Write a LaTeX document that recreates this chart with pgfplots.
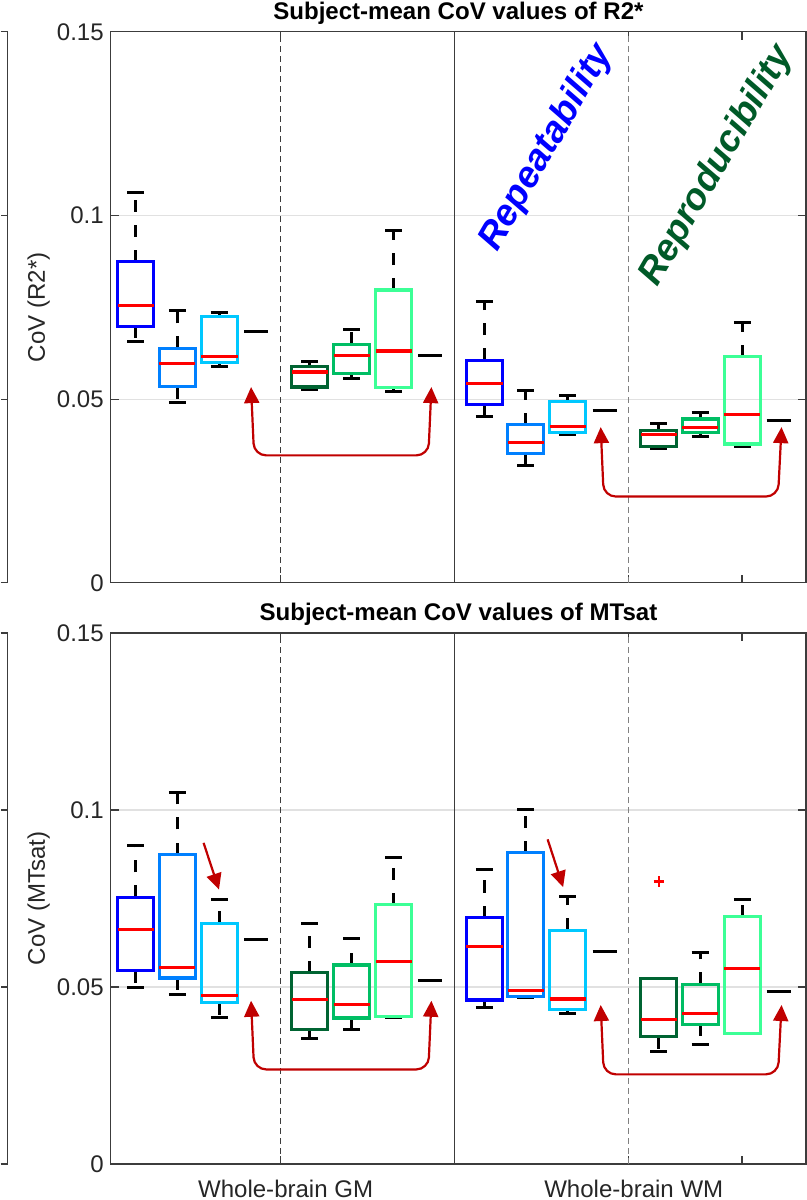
\documentclass[border=0pt]{standalone}
\usepackage{fontspec}
\setmainfont{Liberation Sans}
\usepackage{pgfplots}
\pgfplotsset{compat=1.18}
\usetikzlibrary{arrows.meta}

\definecolor{cA}{RGB}{0,0,255}
\definecolor{cB}{RGB}{0,128,255}
\definecolor{cC}{RGB}{0,200,255}
\definecolor{cD}{RGB}{0,100,50}
\definecolor{cE}{RGB}{0,190,100}
\definecolor{cF}{RGB}{60,255,150}
\definecolor{arr}{RGB}{192,0,0}
\definecolor{repgreen}{RGB}{0,90,40}
\definecolor{axcol}{RGB}{60,60,60}
\definecolor{gridcol}{RGB}{225,225,225}

\tikzset{
  arrowline/.style={arr, line width=1.1pt, rounded corners=6pt,
    {Triangle[length=8pt,width=7.5pt]}-{Triangle[length=8pt,width=7.5pt]}},
  diagarrow/.style={arr, line width=1.1pt, -{Triangle[length=8pt,width=7.5pt]}},
}
\pgfplotsset{
  base/.style={
    scale only axis, width=347pt,
    xmin=110, xmax=804, ymin=0, ymax=0.15,
    axis line style={axcol, line width=0.6pt},
    tick style={axcol, line width=0.6pt},
    major tick length=4pt,
    tick align=inside,
    ytick={0,0.05,0.1,0.15},
    yticklabels={0,0.05,0.1,0.15},
    xtick={279.5,627,740},
    ymajorgrids, grid style={gridcol, line width=0.6pt},
    tick label style={font=\fontsize{12}{14}\selectfont, text=black!85},
    every axis title shift=0pt,
    title style={font=\fontsize{12}{14}\selectfont\bfseries, at={(axis description cs:0.5,1)}, anchor=south, inner sep=1pt, yshift=2.5pt},
    every axis y label/.style={at={(axis description cs:-0.1037,0.5)}, rotate=90, anchor=center, font=\fontsize{12}{14}\selectfont, text=black!85},
  },
  leftpart/.style={
    scale only axis, width=3.5pt, anchor=north west,
    xmin=0, xmax=1, ymin=0, ymax=0.15,
    axis x line*=box, axis y line*=right,
    xtick=\empty, ytick={0.05,0.1}, yticklabels={},
    tick align=inside, major tick length=3.5pt,
    axis line style={axcol, line width=0.6pt},
    tick style={axcol, line width=0.6pt},
  },
  whisk/.style={black, line width=1.5pt, dash pattern=on 6pt off 6.5pt},
  cap/.style={black, line width=1.5pt},
}

% box: colour, position, lower quartile, median, upper quartile
\newcommand{\bbox}[5]{%
  \pgfmathsetmacro\bL{#2-18}\pgfmathsetmacro\bR{#2+18}%
  \addplot[draw=#1, line width=1.6pt, line join=miter] coordinates {(\bL,#3) (\bR,#3) (\bR,#5) (\bL,#5) (\bL,#3) (\bR,#3)};
  \addplot[red, line width=1.6pt] coordinates {(\bL,#4) (\bR,#4)};
}
% whisker: position, quartile end, whisker end
\newcommand{\bwh}[3]{%
  \pgfmathsetmacro\cL{#1-8.5}\pgfmathsetmacro\cR{#1+8.5}%
  \addplot[whisk] coordinates {(#1,#2) (#1,#3)};
  \addplot[cap] coordinates {(\cL,#3) (\cR,#3)};
}
% colour, position, lower whisker, lower quartile, median, upper quartile, upper whisker
\newcommand{\bx}[7]{\bwh{#2}{#4}{#3}\bwh{#2}{#6}{#7}\bbox{#1}{#2}{#4}{#5}{#6}}
\newcommand{\dsh}[2]{%
  \pgfmathsetmacro\dL{#1-12}\pgfmathsetmacro\dR{#1+12}%
  \addplot[black, line width=1.5pt] coordinates {(\dL,#2) (\dR,#2)};
}
\newcommand{\seps}{%
  \addplot[axcol, line width=0.6pt, dash pattern=on 3pt off 2pt] coordinates {(279.5,0) (279.5,0.15)};
  \addplot[axcol, line width=0.6pt] coordinates {(453,0) (453,0.15)};
  \addplot[black!50, line width=0.6pt, dash pattern=on 3pt off 2pt] coordinates {(627,0) (627,0.15)};
}

\begin{document}
\begin{tikzpicture}

% partial axes at the left edge
\begin{axis}[leftpart, height=275pt, at={(0pt,-16pt)}]
\end{axis}
\begin{axis}[leftpart, height=265pt, at={(0pt,-316pt)}]
\end{axis}

% ---------------- top: R2* ----------------
\begin{axis}[base, height=275pt, at={(55pt,-16pt)}, anchor=north west,
  xticklabels={},
  title={Subject-mean CoV values of R2*},
  ylabel={CoV (R2*)}]
\seps
\bx{cA}{135}{0.0657}{0.0698}{0.0755}{0.0874}{0.1063}
\bx{cB}{176.5}{0.0490}{0.0534}{0.0597}{0.0638}{0.0742}
\bx{cC}{218.5}{0.0589}{0.0599}{0.0617}{0.0724}{0.0736}
\dsh{255}{0.0683}
\bx{cD}{308.5}{0.0527}{0.0533}{0.0574}{0.0588}{0.0602}
\bx{cE}{350.5}{0.0556}{0.0570}{0.0619}{0.0649}{0.0690}
\bx{cF}{392.3}{0.0522}{0.0531}{0.0631}{0.0797}{0.0959}
\dsh{428.7}{0.0618}
\bx{cA}{483}{0.0453}{0.0486}{0.0542}{0.0606}{0.0766}
\bx{cB}{524}{0.0320}{0.0352}{0.0381}{0.0430}{0.0523}
\bx{cC}{566}{0.0404}{0.0410}{0.0426}{0.0494}{0.0511}
\dsh{603}{0.0469}
\bx{cD}{657}{0.0365}{0.0372}{0.0403}{0.0415}{0.0435}
\bx{cE}{698.3}{0.0399}{0.0409}{0.0422}{0.0446}{0.0464}
\bx{cF}{740.3}{0.0372}{0.0378}{0.0458}{0.0616}{0.0708}
\dsh{776.7}{0.0443}
\draw[arrowline] (axis cs:250,0.0533) -- (axis cs:253,0.0347) -- (axis cs:427,0.0347) -- (axis cs:430,0.0533);
\draw[arrowline] (axis cs:599,0.0424) -- (axis cs:602,0.0235) -- (axis cs:776,0.0235) -- (axis cs:779.5,0.0424);
\node[rotate=60, text=blue, font=\fontsize{18.5}{20}\selectfont\bfseries\itshape] at (axis cs:545,0.1185) {Repeatability};
\node[rotate=60, text=repgreen, font=\fontsize{18.5}{20}\selectfont\bfseries\itshape] at (axis cs:715,0.1135) {Reproducibility};
\end{axis}

% ---------------- bottom: MTsat ----------------
\begin{axis}[base, height=265pt, at={(55pt,-316pt)}, anchor=north west,
  xticklabels={Whole-brain GM,Whole-brain WM,{}},
  xticklabel style={inner sep=1pt, yshift=-7pt, xshift=2.5pt},
  title={Subject-mean CoV values of MTsat},
  ylabel={CoV (MTsat)}]
\seps
\bx{cA}{135}{0.0499}{0.0546}{0.0663}{0.0753}{0.0900}
\bx{cB}{176.5}{0.0479}{0.0525}{0.0554}{0.0874}{0.1050}
\bx{cC}{218.5}{0.0414}{0.0455}{0.0475}{0.0680}{0.0746}
\dsh{255}{0.0635}
\bx{cD}{308.5}{0.0355}{0.0380}{0.0464}{0.0540}{0.0679}
\bx{cE}{350.5}{0.0379}{0.0412}{0.0451}{0.0562}{0.0636}
\bx{cF}{392.3}{0.0414}{0.0417}{0.0572}{0.0732}{0.0866}
\dsh{428.7}{0.0518}
\bx{cA}{483}{0.0442}{0.0463}{0.0614}{0.0696}{0.0833}
\bx{cB}{524}{0.0471}{0.0474}{0.0490}{0.0879}{0.1002}
\bx{cC}{566}{0.0425}{0.0437}{0.0466}{0.0660}{0.0755}
\dsh{603}{0.0600}
\bwh{657}{0.0360}{0.0319}
\bbox{cD}{657}{0.0360}{0.0408}{0.0523}
\addplot[only marks, mark=+, mark size=2.6pt, mark options={draw=red, line width=1.2pt, solid}] coordinates {(657,0.0798)};
\bx{cE}{698.3}{0.0336}{0.0394}{0.0425}{0.0507}{0.0597}
\bwh{740.3}{0.0698}{0.0746}
\bbox{cF}{740.3}{0.0368}{0.0553}{0.0698}
\dsh{776.7}{0.0487}
\draw[arrowline] (axis cs:250,0.0461) -- (axis cs:253,0.0267) -- (axis cs:427,0.0267) -- (axis cs:430,0.0461);
\draw[arrowline] (axis cs:599,0.0449) -- (axis cs:602,0.0253) -- (axis cs:776,0.0253) -- (axis cs:779.5,0.0449);
\draw[diagarrow] (axis cs:202.6,0.0907) -- (axis cs:218,0.0775);
\draw[diagarrow] (axis cs:546,0.0917) -- (axis cs:561.5,0.0782);
\end{axis}
\end{tikzpicture}
\end{document}
